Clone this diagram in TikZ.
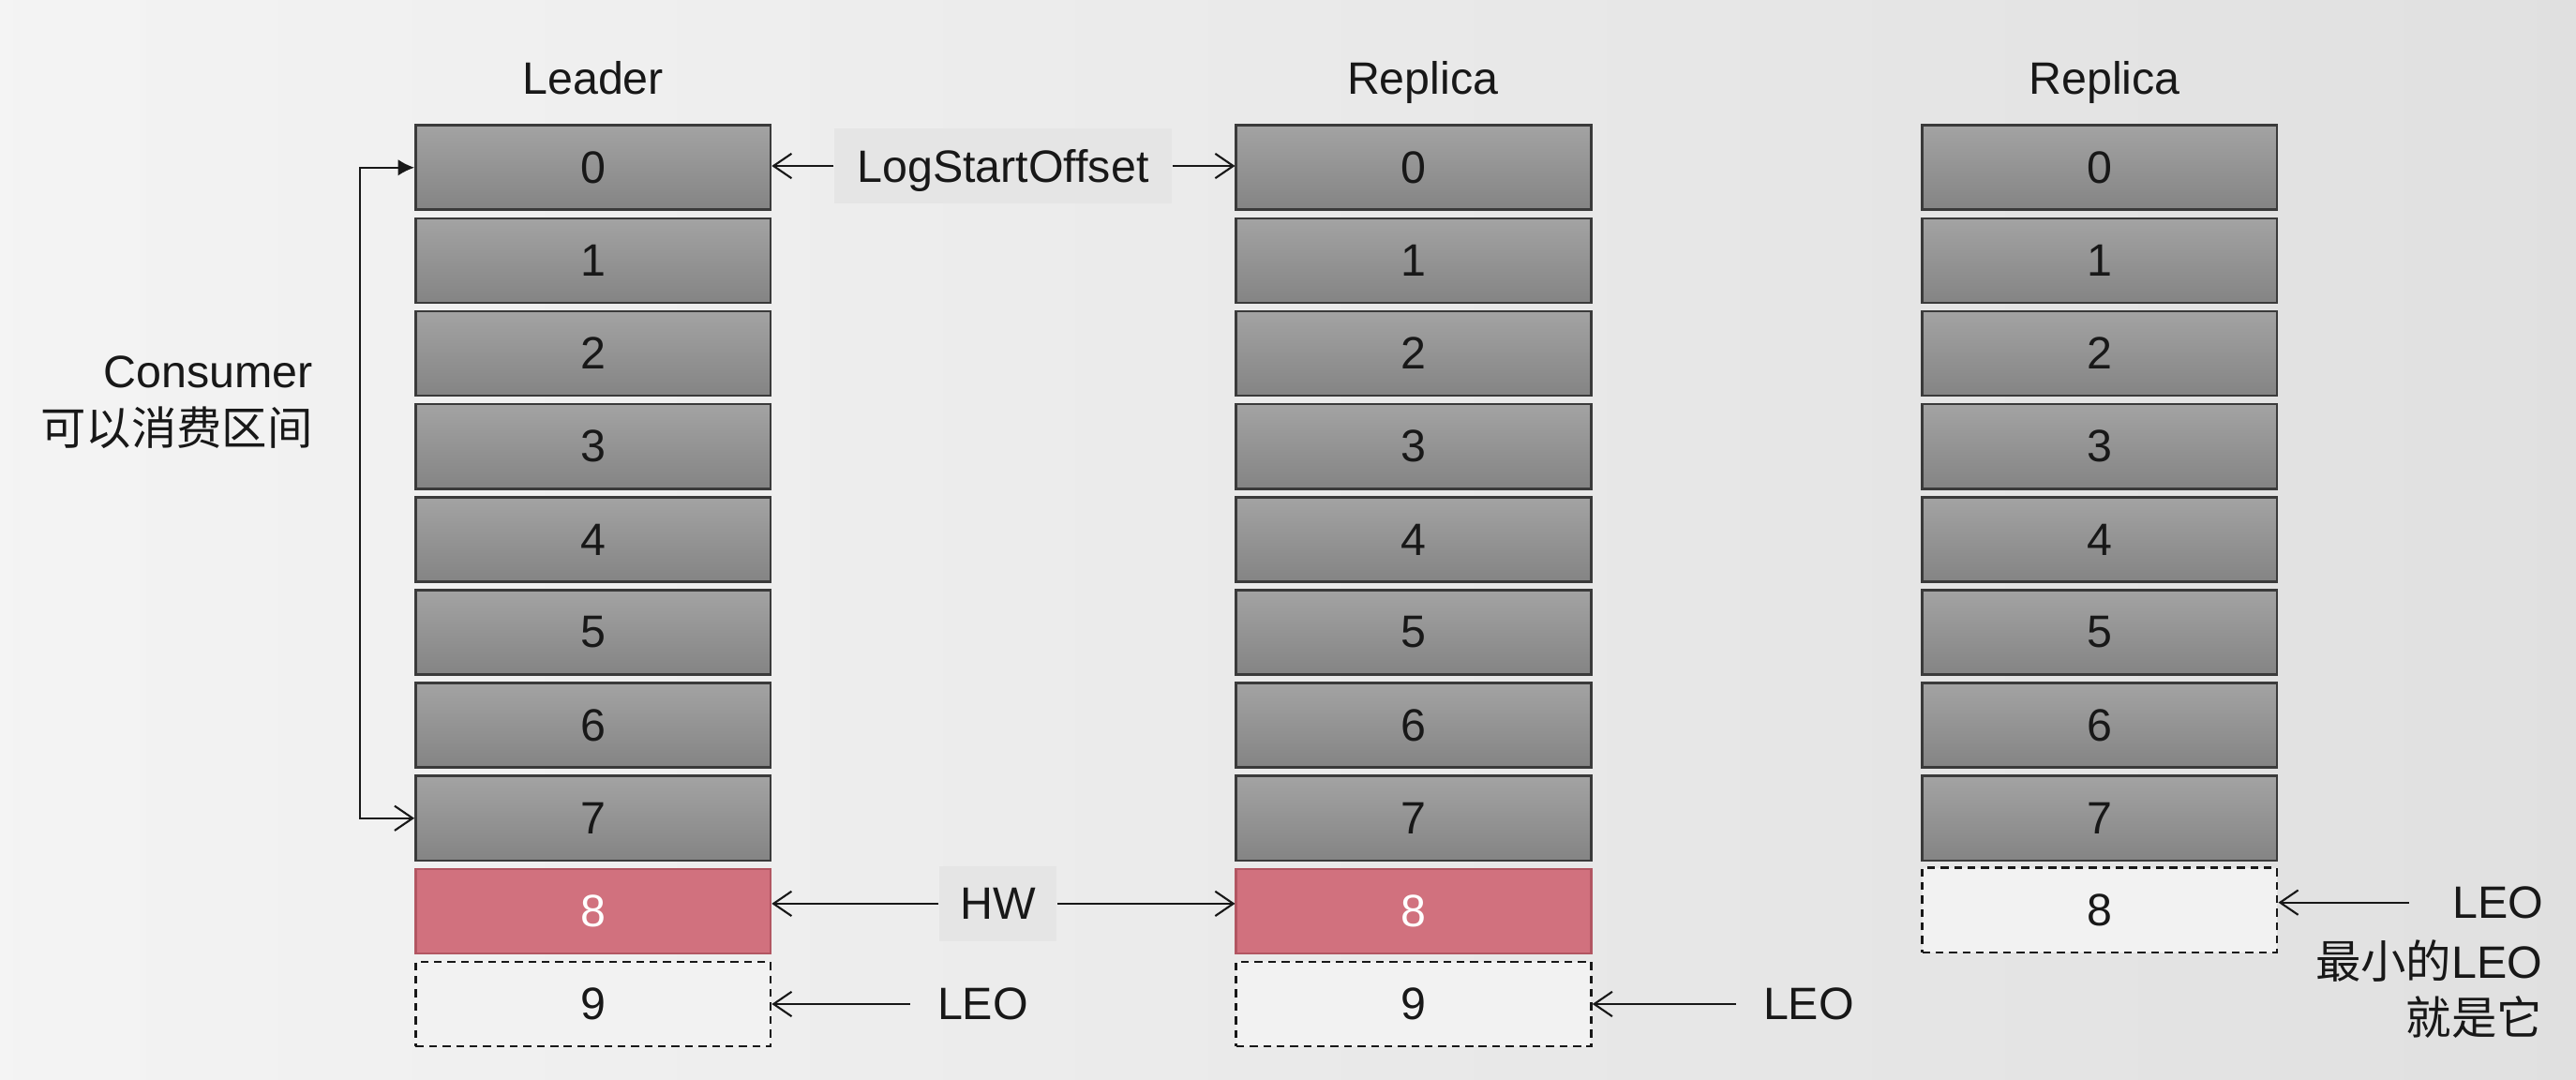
\documentclass[tikz,border=0pt]{standalone}
\usepackage{fontspec}
\setmainfont{Liberation Sans}
\newfontfamily\cjk{Noto Sans CJK SC}
\usetikzlibrary{arrows.meta}
\definecolor{pagebg}{RGB}{236,236,236}
\definecolor{celltop}{RGB}{163,163,163}
\definecolor{cellbot}{RGB}{132,132,132}
\definecolor{cellline}{RGB}{58,58,58}
\definecolor{hwred}{RGB}{209,113,126}
\definecolor{hwline}{RGB}{178,86,98}
\definecolor{freebg}{RGB}{242,242,242}
\definecolor{tagbg}{RGB}{229,229,229}
\definecolor{ink}{RGB}{24,24,24}
\tikzset{every picture/.style={line width=0.6pt}}
\tikzset{
  slot/.style={rectangle, minimum width=108pt, minimum height=25.7pt, inner sep=0pt, text=ink},
  cell/.style={slot, draw=cellline, line width=0.75pt, top color=celltop, bottom color=cellbot},
  hwcell/.style={slot, draw=hwline, line width=0.75pt, fill=hwred, text=white},
  freecell/.style={slot, draw=ink, line width=0.8pt, fill=freebg, dash pattern=on 2.4pt off 1.7pt},
  tag/.style={fill=tagbg, text=ink, text depth=0pt, inner sep=0pt},
  lbl/.style={text=ink, inner sep=0pt},
  arr/.style={-{Straight Barb[length=5.5pt,width=7.5pt]}, line width=0.6pt, draw=ink},
}

\begin{document}
\begin{tikzpicture}[x=0.5pt,y=0.5pt,yscale=-1,font=\fontsize{13.8}{17.2}\selectfont]
\useasboundingbox (0,0) rectangle (1568,657.3);
\shade[left color=pagebg!60!white, right color=pagebg!95!black] (0,0) rectangle (1568,657.3);

% Column titles
\node[lbl, anchor=base] (tLead) at (361,57.4) {Leader};
\node[lbl, anchor=base] (tRepA) at (866,57.4) {Replica};
\node[lbl, anchor=base] (tRepB) at (1281,57.4) {Replica};

%Shape: Leader log
\node[cell] (L0) at (361,102) {0};
\node[cell] (L1) at (361,158.6) {1};
\node[cell] (L2) at (361,215.1) {2};
\node[cell] (L3) at (361,271.7) {3};
\node[cell] (L4) at (361,328.3) {4};
\node[cell] (L5) at (361,384.9) {5};
\node[cell] (L6) at (361,441.4) {6};
\node[cell] (L7) at (361,498) {7};
\node[hwcell] (L8) at (361,554.6) {8};
\node[freecell] (L9) at (361,611.1) {9};

%Shape: first replica log
\node[cell] (M0) at (860.5,102) {0};
\node[cell] (M1) at (860.5,158.6) {1};
\node[cell] (M2) at (860.5,215.1) {2};
\node[cell] (M3) at (860.5,271.7) {3};
\node[cell] (M4) at (860.5,328.3) {4};
\node[cell] (M5) at (860.5,384.9) {5};
\node[cell] (M6) at (860.5,441.4) {6};
\node[cell] (M7) at (860.5,498) {7};
\node[hwcell] (M8) at (860.5,554.6) {8};
\node[freecell] (M9) at (860.5,611.1) {9};

%Shape: second replica log
\node[cell] (R0) at (1278,102) {0};
\node[cell] (R1) at (1278,158.6) {1};
\node[cell] (R2) at (1278,215.1) {2};
\node[cell] (R3) at (1278,271.7) {3};
\node[cell] (R4) at (1278,328.3) {4};
\node[cell] (R5) at (1278,384.9) {5};
\node[cell] (R6) at (1278,441.4) {6};
\node[cell] (R7) at (1278,498) {7};
\node[freecell] (R8) at (1278,554) {8};

% Text Node
\node[tag, minimum width=102.5pt, minimum height=23pt] (lso) at (610.5,101) {LogStartOffset};
% Text Node
\node[tag, minimum width=35.5pt, minimum height=23pt] (hw) at (607.5,550) {HW};
% Text Node
\node[lbl, text depth=0pt, anchor=west, inner xsep=8pt] (leoL) at (554,611.1) {LEO};
% Text Node
\node[lbl, text depth=0pt, anchor=west, inner xsep=8pt] (leoM) at (1056.7,611.1) {LEO};
% Text Node
\node[lbl, text depth=0pt, anchor=west, inner xsep=13pt] (leoR) at (1466.2,549.3) {LEO};
% Text Node
\node[lbl, anchor=base east] (minLeo) at (1548,595.5) {{\cjk 最小的}LEO};
% Text Node
\node[lbl, anchor=base east] (isIt) at (1548,629.6) {\cjk 就是它};
% Text Node
\node[lbl, anchor=base east] (cons) at (191,235.8) {Consumer};
% Text Node
\node[lbl, anchor=base east] (range) at (191,271) {\cjk 可以消费区间};

%Straight Lines
\draw[arr] (lso.west) -- (lso.west -| L0.east);
\draw[arr] (lso.east) -- (lso.east -| M0.west);
\draw[arr] (hw.west) -- (hw.west -| L8.east);
\draw[arr] (hw.east) -- (hw.east -| M8.west);
\draw[arr] (leoL.west) -- (leoL.west -| L9.east);
\draw[arr] (leoM.west) -- (leoM.west -| M9.east);
\draw[arr] (leoR.west) -- (leoR.west -| R8.east);
%Right Angle: consumer range
\draw[{Latex[length=5pt,width=5pt]}-{Straight Barb[length=5.5pt,width=7.5pt]}, line width=0.6pt, draw=ink] (L0.west) -- ++(-33,0) |- (L7.west);
\end{tikzpicture}
\end{document}
